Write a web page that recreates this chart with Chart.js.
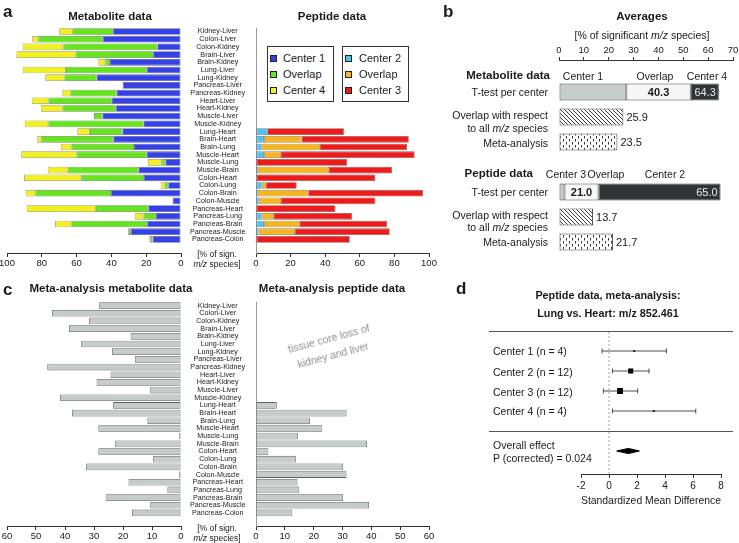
<!DOCTYPE html>
<html><head><meta charset="utf-8">
<script src="https://cdn.jsdelivr.net/npm/chart.js"></script>
<style>
html,body{margin:0;padding:0;background:#fff;}
#stage{position:relative;width:739px;height:543px;overflow:hidden;font-family:'Liberation Sans',Arial,sans-serif;color:#1a1a1a;}
.t{position:absolute;white-space:nowrap;line-height:1;}
canvas{position:absolute;}
</style></head><body><div id="stage"></div>
<script>
// ---------------- DATA ----------------
const pairs = ["Kidney-Liver","Colon-Liver","Colon-Kidney","Brain-Liver","Brain-Kidney","Lung-Liver","Lung-Kidney","Pancreas-Liver","Pancreas-Kidney","Heart-Liver","Heart-Kidney","Muscle-Liver","Muscle-Kidney","Lung-Heart","Brain-Heart","Brain-Lung","Muscle-Heart","Muscle-Lung","Muscle-Brain","Colon-Heart","Colon-Lung","Colon-Brain","Colon-Muscle","Pancreas-Heart","Pancreas-Lung","Pancreas-Brain","Pancreas-Muscle","Pancreas-Colon"];

// panel a, metabolite data (% of significant m/z species)
const metCenter1 = [39.0,45.0,13.6,16.0,40.8,19.7,48.5,33.5,37.0,39.8,37.5,45.2,21.6,33.7,38.9,27.0,19.7,9.0,24.5,21.3,7.3,40.2,4.8,18.8,14.5,19.4,28.9,16.3];
const metOverlap = [23.0,37.0,54.0,44.6,2.7,46.4,18.5,null,26.4,36.4,30.5,4.8,54.6,18.6,41.1,35.8,40.3,2.3,40.3,36.0,2.1,43.5,null,30.1,7.1,43.4,1.1,1.1];
const metCenter4 = [8.0,3.5,23.4,34.0,4.0,24.9,11.0,null,4.8,9.6,12.6,null,13.6,7.3,2.6,6.3,31.8,7.7,11.8,32.9,2.3,5.6,null,39.8,5.0,9.6,0.5,0.8];

// panel a, peptide data
const pepCenter2 = [null,null,null,null,null,null,null,null,null,null,null,null,null,6.5,4.6,3.3,4.6,null,1.0,null,3.3,1.0,1.9,null,3.3,4.6,1.5,null];
const pepOverlap = [null,null,null,null,null,null,null,null,null,null,null,null,null,null,21.7,33.6,9.8,null,41.1,null,2.3,29.2,12.5,null,7.1,20.8,21.0,null];
const pepCenter3 = [null,null,null,null,null,null,null,null,null,null,null,null,null,44.3,62.0,50.4,77.3,52.7,36.6,69.0,17.9,66.3,54.6,45.9,45.2,50.4,54.8,54.2];

// panel c, meta-analysis
const metaMet = [28.2,44.5,31.7,38.6,17.4,34.4,23.8,15.9,46.1,24.3,29.1,10.6,41.7,23.4,37.6,11.6,28.5,0.6,22.8,28.5,9.6,32.7,0.6,18.1,4.7,26.0,10.6,16.9];
const metaPep = [null,null,null,null,null,null,null,null,null,null,null,null,null,7.2,31.4,18.7,23.0,14.5,38.5,4.3,13.8,30.2,31.4,14.4,15.0,30.2,39.2,12.6];

// panel b, averages [metabolite, peptide]
const avgOnlyFirst = [27.1, 2.2];     // Center 1 / Center 3
const avgOverlap = [25.9, 13.7];
const avgOnlySecond = [11.3, 49.1];   // Center 4 / Center 2
const avgOverlapAll = [25.9, 13.7];
const avgMeta = [23.5, 21.7];
const avgOverlapPct = ["40.3", "21.0"];
const avgTotal = ["64.3", "65.0"];

// panel d, forest plot
const forestLabels = ["Center 1 (n = 4)","Center 2 (n = 12)","Center 3 (n = 12)","Center 4 (n = 4)"];
const forestSMD = [1.8, 1.55, 0.79, 3.2];
const forestLo = [-0.5, 0.24, -0.4, 0.24];
const forestHi = [4.1, 2.86, 2.05, 6.2];
const forestSize = [1.3, 3.6, 4.2, 1.3];
const overallSMD = 1.38, overallLo = 0.55, overallHi = 2.17;

// tick labels
const ticksPct100 = [0,20,40,60,80,100];
const ticksPct60 = [0,10,20,30,40,50,60];
const ticksAvg = [0,10,20,30,40,50,60,70];
const ticksSMD = [-2,0,2,4,6,8];

// ---------------- SETUP ----------------
const stage = document.getElementById('stage');
const FF = "'Liberation Sans', Arial, sans-serif";
Chart.defaults.font.family = FF;
Chart.defaults.color = '#1a1a1a';
Chart.defaults.animation = false;
Chart.defaults.plugins.legend.display = false;
Chart.defaults.plugins.tooltip.enabled = false;

const P = 24;
function makeCanvas(a, ext) {
  const Wl = ext.left || 0, Ht = ext.top || 0, Hb = ext.bottom || 0;
  const w = a.r - a.l + Wl + 2 * P, h = a.b - a.t + Ht + Hb + 2 * P;
  const c = document.createElement('canvas');
  c.width = w; c.height = h;
  c.style.left = (a.l - Wl - P) + 'px'; c.style.top = (a.t - Ht - P) + 'px';
  c.style.width = w + 'px'; c.style.height = h + 'px';
  stage.appendChild(c);
  return c;
}
function rowRange(a, y0, dy) { return {min: (a.t - y0) / dy, max: (a.b - y0) / dy}; }
const setTicks = arr => s => { s.ticks = arr.map(v => ({value: v})); };

function xAxis(tickArr, o) {
  return {
    type: 'linear', min: tickArr[0], max: tickArr[tickArr.length - 1], reverse: !!o.reverse,
    position: o.position || 'bottom', stacked: !!o.stacked,
    afterFit: s => { s.height = o.h; },
    afterBuildTicks: setTicks(tickArr),
    border: {display: true, color: '#333', width: 1},
    grid: {display: true, drawOnChartArea: false, drawTicks: true, tickLength: o.tl || 4, tickColor: '#333', tickWidth: 1},
    ticks: {padding: o.pad ?? 1, font: {size: o.fs || 9.5}, color: '#1a1a1a', maxRotation: 0, autoSkip: false},
    title: o.title ? {display: true, text: o.title, font: {size: 11}, color: '#1a1a1a', padding: 0} : {display: false}
  };
}
function yHidden(range) {
  return {type: 'linear', reverse: true, min: range.min, max: range.max, offset: false, display: false};
}
function yLabels(range) {
  return {
    type: 'linear', reverse: true, min: range.min, max: range.max, offset: false, display: true, position: 'left',
    afterFit: s => { s.width = 75; },
    afterBuildTicks: setTicks(pairs.map((_, i) => i)),
    ticks: {autoSkip: false, padding: 10.5, crossAlign: 'center', font: {size: 7.2, lineHeight: 1}, color: '#222',
            callback: v => pairs[v] ?? ''},
    grid: {display: true, drawOnChartArea: false, drawTicks: false},
    border: {display: true, color: '#9a9a9a', width: 1, dash: [3, 1.5]}
  };
}
const rows = vals => vals.map((v, i) => ({y: i, x: v}));
function barDs(vals, color, border, pct) {
  return {data: rows(vals), backgroundColor: color, borderColor: border || 'rgba(45,45,45,0.6)', borderWidth: 0.8,
          borderSkipped: false, stack: 's', barPercentage: pct || 0.87, categoryPercentage: 1};
}
function barChart(area, ext, datasets, xs, ys, plugins) {
  return new Chart(makeCanvas(area, ext), {
    type: 'bar', data: {datasets},
    options: {indexAxis: 'y', responsive: false, layout: {padding: P}, scales: {x: xs, y: ys}},
    plugins: plugins || []
  });
}

// ---------------- PANEL A ----------------
const aL = {l: 7, t: 28, r: 181, b: 253};
const aR = {l: 256, t: 28, r: 429, b: 253};
const aRange = rowRange(aL, 31.5, 7.7);
barChart(aL, {bottom: 18}, [
  barDs(metCenter1, '#3441e4', 'rgba(30,30,110,0.7)'),
  barDs(metOverlap, '#66e41e', 'rgba(40,90,20,0.7)'),
  barDs(metCenter4, '#f2f01e', 'rgba(110,110,30,0.7)')
], xAxis(ticksPct100, {reverse: true, stacked: true, h: 18}), yHidden(aRange));
barChart(aR, {bottom: 18, left: 75}, [
  barDs(pepCenter2, '#4cc3ee', 'rgba(30,80,110,0.7)'),
  barDs(pepOverlap, '#f6b41e', 'rgba(110,80,20,0.7)'),
  barDs(pepCenter3, '#ee1b1b', 'rgba(110,20,20,0.7)')
], xAxis(ticksPct100, {stacked: true, h: 18}), yLabels(aRange));

// ---------------- PANEL C ----------------
const cL = {l: 7, t: 302, r: 181, b: 526};
const cR = {l: 256, t: 302, r: 429, b: 526};
const cRange = rowRange(cL, 305.6, 7.68);
barChart(cL, {bottom: 18}, [barDs(metaMet, '#c5ccc9', '#5d6260')],
  xAxis(ticksPct60, {reverse: true, h: 18}), yHidden(cRange));
barChart(cR, {bottom: 18, left: 75}, [barDs(metaPep, '#c5ccc9', '#5d6260')],
  xAxis(ticksPct60, {h: 18}), yLabels(cRange));

// ---------------- PANEL B ----------------
function hatchPattern() {
  const c = document.createElement('canvas'); c.width = 4; c.height = 4;
  const g = c.getContext('2d');
  g.fillStyle = '#fff'; g.fillRect(0, 0, 4, 4);
  g.strokeStyle = '#222'; g.lineWidth = 0.9; g.beginPath();
  g.moveTo(0, 0); g.lineTo(4, 4); g.moveTo(-1, 3); g.lineTo(1, 5); g.moveTo(3, -1); g.lineTo(5, 1);
  g.stroke();
  return g.createPattern(c, 'repeat');
}
function dotPattern() {
  const c = document.createElement('canvas'); c.width = 6; c.height = 6;
  const g = c.getContext('2d');
  g.fillStyle = '#fff'; g.fillRect(0, 0, 6, 6);
  g.fillStyle = '#333'; g.fillRect(1, 0, 1, 2.5); g.fillRect(4, 3, 1, 2.5);
  return g.createPattern(c, 'repeat');
}
const valueLabels = {
  id: 'valueLabels',
  afterDatasetsDraw(chart) {
    const ctx = chart.ctx;
    chart.data.datasets.forEach((ds, di) => {
      if (!ds.valueText) return;
      chart.getDatasetMeta(di).data.forEach((el, i) => {
        const t = ds.valueText[i]; if (t == null) return;
        const {x, y, base} = el.getProps(['x', 'y', 'base'], true);
        ctx.save();
        ctx.font = (ds.valueBold ? 'bold ' : '') + '11px ' + FF;
        ctx.fillStyle = ds.valueColor || '#1a1a1a';
        ctx.textBaseline = 'middle';
        if (ds.valuePos === 'after') { ctx.textAlign = 'left'; ctx.fillText(t, x + 3, y + 0.5); }
        else if (ds.valuePos === 'center') { ctx.textAlign = 'center'; ctx.fillText(t, (x + base) / 2, y + 0.5); }
        else { ctx.textAlign = 'right'; ctx.fillText(t, x - 3, y + 0.5); }
        ctx.restore();
      });
    });
  }
};
const bA = {l: 559, t: 60, r: 733, b: 262};
const bRange = rowRange(bA, 92, 25);
const bRowsT = [0, 4], bRowsO = [1, 5], bRowsM = [2, 6];
const bDs = (rowIdx, vals, bg, extra) => Object.assign({
  data: vals.map((v, k) => ({y: rowIdx[k], x: v})), backgroundColor: bg, borderColor: '#444', borderWidth: 1,
  borderSkipped: false, stack: 's', barPercentage: 0.84, categoryPercentage: 1
}, extra || {});
barChart(bA, {top: 20}, [
  bDs(bRowsT, avgOnlyFirst, '#c6cdca'),
  bDs(bRowsT, avgOverlap, '#f7f7f7', {valueText: avgOverlapPct, valuePos: 'center', valueBold: true}),
  bDs(bRowsT, avgOnlySecond, '#2f3436', {valueText: avgTotal, valuePos: 'end', valueColor: '#e8e8e8'}),
  bDs(bRowsO, avgOverlapAll, hatchPattern(), {valueText: avgOverlapAll.map(v => v.toFixed(1)), valuePos: 'after'}),
  bDs(bRowsM, avgMeta, dotPattern(), {valueText: avgMeta.map(v => v.toFixed(1)), valuePos: 'after'})
], xAxis(ticksAvg, {position: 'top', stacked: true, h: 20, tl: 3}), yHidden(bRange), [valueLabels]);

// ---------------- PANEL D ----------------
const dA = {l: 581, t: 332, r: 721, b: 474};
const dRange = rowRange(dA, 351, 20);
const overallRow = 5, diamondHalf = 0.13;
new Chart(makeCanvas(dA, {bottom: 34}), {
  type: 'scatter',
  data: {datasets: [
    {type: 'line', data: [{x: 0, y: dRange.min}, {x: 0, y: dRange.max}], borderColor: '#8c8c8c', borderWidth: 0.8, borderDash: [2, 2], pointRadius: 0},
    ...forestSMD.map((m, i) => ({type: 'line', data: [{x: forestLo[i], y: i}, {x: forestHi[i], y: i}],
      borderColor: '#222', borderWidth: 0.8, pointStyle: 'line', rotation: 90, pointRadius: 2.5,
      pointBorderWidth: 0.8, pointBorderColor: '#222'})),
    {type: 'scatter', data: forestSMD.map((m, i) => ({x: m, y: i})), pointStyle: 'rect', pointRadius: forestSize,
      backgroundColor: '#000', borderColor: '#000', borderWidth: 0},
    {type: 'line', data: [{x: overallLo, y: overallRow}, {x: overallSMD, y: overallRow - diamondHalf}, {x: overallHi, y: overallRow},
      {x: overallSMD, y: overallRow + diamondHalf}, {x: overallLo, y: overallRow}],
      fill: 'shape', backgroundColor: '#000', borderColor: '#000', borderWidth: 1, pointRadius: 0}
  ]},
  options: {responsive: false, layout: {padding: P},
    scales: {x: xAxis(ticksSMD, {h: 34, pad: 2, fs: 10, title: 'Standardized Mean Difference'}), y: yHidden(dRange)}}
});

// ---------------- TEXT ----------------
function txt(html, x, y, o) {
  o = o || {};
  const d = document.createElement('div');
  d.className = 't';
  d.innerHTML = html;
  const tx = o.align === 'center' ? '-50%' : (o.align === 'right' ? '-100%' : '0');
  d.style.cssText += `left:${x}px;top:${y}px;font-size:${o.size || 10.5}px;font-weight:${o.bold ? 'bold' : 'normal'};color:${o.color || '#1a1a1a'};transform:translate(${tx},-50%)${o.rot ? ' rotate(' + o.rot + 'deg)' : ''};text-align:${o.align || 'left'};`;
  if (o.lh) d.style.lineHeight = o.lh + 'px';
  stage.appendChild(d);
  return d;
}
function rect(x, y, w, h, css) {
  const d = document.createElement('div');
  d.style.cssText = `position:absolute;left:${x}px;top:${y}px;width:${w}px;height:${h}px;box-sizing:border-box;${css}`;
  stage.appendChild(d);
  return d;
}
// panel letters
txt('a', 3, 11, {size: 17, bold: true});
txt('b', 443, 11, {size: 17, bold: true});
txt('c', 3, 289, {size: 17, bold: true});
txt('d', 456, 288, {size: 17, bold: true});
// panel a
txt('Metabolite data', 110, 16.5, {size: 11.5, bold: true, align: 'center'});
txt('Peptide data', 332, 16.5, {size: 11.5, bold: true, align: 'center'});
txt('[% of sign.', 217, 253.5, {size: 8.5, align: 'center'});
txt('<i>m/z</i> species]', 217, 263.5, {size: 8.5, align: 'center'});
function legend(x, sqx, tx, items) {
  rect(x, 46, 67, 56, 'border:1px solid #333;background:#fff;');
  items.forEach(([label, col], k) => {
    const cy = 58.3 + k * 15.9;
    rect(sqx, cy - 3.5, 7, 7, `background:${col};border:1px solid #222;`);
    txt(label, tx, cy, {size: 11});
  });
}
legend(267, 269.5, 283, [['Center 1', '#3441e4'], ['Overlap', '#66e41e'], ['Center 4', '#f2f01e']]);
legend(342, 345, 359, [['Center 2', '#4cc3ee'], ['Overlap', '#f6b41e'], ['Center 3', '#ee1b1b']]);
// panel b
txt('Averages', 642, 17, {size: 11.5, bold: true, align: 'center'});
txt('[% of significant <i>m/z</i> species]', 642, 35, {size: 10.5, align: 'center'});
txt('Metabolite data', 550, 76, {size: 11.5, bold: true, align: 'right'});
txt('Center 1', 583, 76, {size: 10.5, align: 'center'});
txt('Overlap', 655, 76, {size: 10.5, align: 'center'});
txt('Center 4', 707, 76, {size: 10.5, align: 'center'});
txt('T-test per center', 548, 92, {align: 'right'});
txt('Overlap with respect', 548, 115, {align: 'right'});
txt('to all <i>m/z</i> species', 548, 127.5, {align: 'right'});
txt('Meta-analysis', 548, 142.5, {align: 'right'});
txt('Peptide data', 533, 174, {size: 11.5, bold: true, align: 'right'});
txt('Center 3', 566, 174, {size: 10.5, align: 'center'});
txt('Overlap', 606, 174, {size: 10.5, align: 'center'});
txt('Center 2', 665, 174, {size: 10.5, align: 'center'});
txt('T-test per center', 548, 192, {align: 'right'});
txt('Overlap with respect', 548, 214.5, {align: 'right'});
txt('to all <i>m/z</i> species', 548, 227, {align: 'right'});
txt('Meta-analysis', 548, 242, {align: 'right'});
// panel c
txt('Meta-analysis metabolite data', 111, 289, {size: 11.5, bold: true, align: 'center'});
txt('Meta-analysis peptide data', 332, 289, {size: 11.5, bold: true, align: 'center'});
txt('[% of sign.', 217, 527.5, {size: 8.5, align: 'center'});
txt('<i>m/z</i> species]', 217, 537.5, {size: 8.5, align: 'center'});
txt('tissue core loss of<br>kidney and liver', 331, 347, {size: 10.5, align: 'center', color: '#8e8e8e', rot: -15, lh: 17});
// panel d
txt('Peptide data, meta-analysis:', 608, 295, {size: 10.8, bold: true, align: 'center'});
txt('Lung vs. Heart: m/z 852.461', 608, 313, {size: 10.8, bold: true, align: 'center'});
rect(489, 331, 244, 1, 'background:#555;');
rect(489, 431, 244, 1, 'background:#555;');
forestLabels.forEach((l, i) => txt(l, 493, [351, 371.5, 391.5, 411][i], {size: 10.5}));
txt('Overall effect', 493, 444.5, {size: 10.5});
txt('P (corrected) = 0.024', 493, 458, {size: 10.5});
</script>
</body></html>
